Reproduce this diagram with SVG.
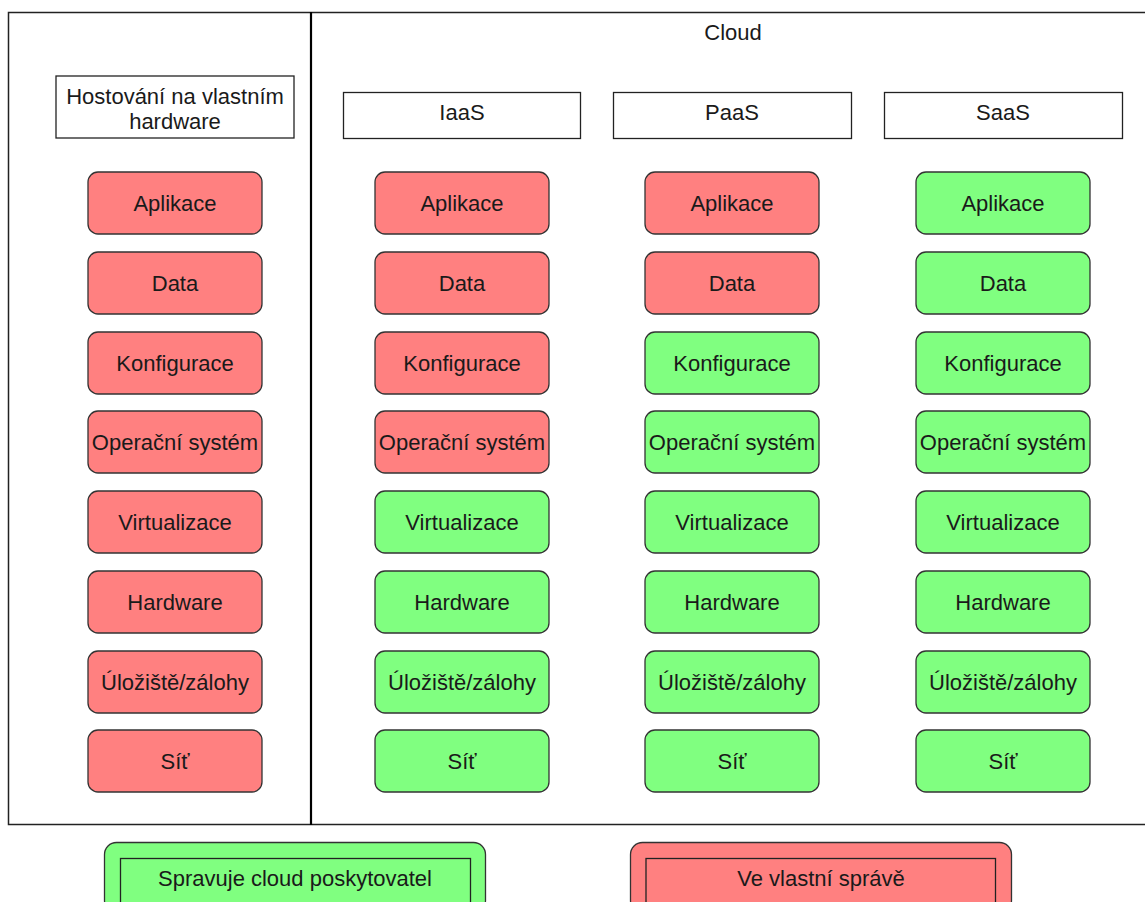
<svg xmlns="http://www.w3.org/2000/svg" width="1145" height="902" viewBox="0 0 1145 902">
<style>
text{font-family:"Liberation Sans",Arial,sans-serif;font-size:22px;fill:#1a1a1a;text-anchor:middle}
.r{fill:#FF8080;stroke:#333;stroke-width:1.3}
.g{fill:#80FF80;stroke:#333;stroke-width:1.3}
.h{fill:#fff;stroke:#222;stroke-width:1.3}
.frame{fill:#fff;stroke:#222;stroke-width:1.5}
</style>
<g id="frame">
<rect class="frame" x="8.5" y="12.5" width="1150" height="812"/>
<line x1="311" y1="12" x2="311" y2="825" stroke="#000" stroke-width="2.2"/>
<text x="733" y="40">Cloud</text>
</g>
<g id="connectors"></g>
<g id="hdr-own"><rect class="h" x="56" y="76" width="238" height="62"/><text x="175" y="104">Hostování na vlastním</text><text x="175" y="129">hardware</text></g>
<g id="hdr-iaas"><rect class="h" x="343.5" y="92.5" width="237" height="46"/><text x="462" y="120">IaaS</text></g>
<g id="hdr-paas"><rect class="h" x="613.5" y="92.5" width="238" height="46"/><text x="732" y="120">PaaS</text></g>
<g id="hdr-saas"><rect class="h" x="884.5" y="92.5" width="238" height="46"/><text x="1003" y="120">SaaS</text></g>

<g id="own-1"><rect class="r" x="88" y="172" width="174" height="62" rx="10"/><text x="175" y="211">Aplikace</text></g>
<g id="own-2"><rect class="r" x="88" y="252" width="174" height="62" rx="10"/><text x="175" y="291">Data</text></g>
<g id="own-3"><rect class="r" x="88" y="332" width="174" height="62" rx="10"/><text x="175" y="371">Konfigurace</text></g>
<g id="own-4"><rect class="r" x="88" y="411" width="174" height="62" rx="10"/><text x="175" y="450">Operační systém</text></g>
<g id="own-5"><rect class="r" x="88" y="491" width="174" height="62" rx="10"/><text x="175" y="530">Virtualizace</text></g>
<g id="own-6"><rect class="r" x="88" y="571" width="174" height="62" rx="10"/><text x="175" y="610">Hardware</text></g>
<g id="own-7"><rect class="r" x="88" y="651" width="174" height="62" rx="10"/><text x="175" y="690">Úložiště/zálohy</text></g>
<g id="own-8"><rect class="r" x="88" y="730" width="174" height="62" rx="10"/><text x="175" y="769">Síť</text></g>

<g id="iaas-1"><rect class="r" x="375" y="172" width="174" height="62" rx="10"/><text x="462" y="211">Aplikace</text></g>
<g id="iaas-2"><rect class="r" x="375" y="252" width="174" height="62" rx="10"/><text x="462" y="291">Data</text></g>
<g id="iaas-3"><rect class="r" x="375" y="332" width="174" height="62" rx="10"/><text x="462" y="371">Konfigurace</text></g>
<g id="iaas-4"><rect class="r" x="375" y="411" width="174" height="62" rx="10"/><text x="462" y="450">Operační systém</text></g>
<g id="iaas-5"><rect class="g" x="375" y="491" width="174" height="62" rx="10"/><text x="462" y="530">Virtualizace</text></g>
<g id="iaas-6"><rect class="g" x="375" y="571" width="174" height="62" rx="10"/><text x="462" y="610">Hardware</text></g>
<g id="iaas-7"><rect class="g" x="375" y="651" width="174" height="62" rx="10"/><text x="462" y="690">Úložiště/zálohy</text></g>
<g id="iaas-8"><rect class="g" x="375" y="730" width="174" height="62" rx="10"/><text x="462" y="769">Síť</text></g>

<g id="paas-1"><rect class="r" x="645" y="172" width="174" height="62" rx="10"/><text x="732" y="211">Aplikace</text></g>
<g id="paas-2"><rect class="r" x="645" y="252" width="174" height="62" rx="10"/><text x="732" y="291">Data</text></g>
<g id="paas-3"><rect class="g" x="645" y="332" width="174" height="62" rx="10"/><text x="732" y="371">Konfigurace</text></g>
<g id="paas-4"><rect class="g" x="645" y="411" width="174" height="62" rx="10"/><text x="732" y="450">Operační systém</text></g>
<g id="paas-5"><rect class="g" x="645" y="491" width="174" height="62" rx="10"/><text x="732" y="530">Virtualizace</text></g>
<g id="paas-6"><rect class="g" x="645" y="571" width="174" height="62" rx="10"/><text x="732" y="610">Hardware</text></g>
<g id="paas-7"><rect class="g" x="645" y="651" width="174" height="62" rx="10"/><text x="732" y="690">Úložiště/zálohy</text></g>
<g id="paas-8"><rect class="g" x="645" y="730" width="174" height="62" rx="10"/><text x="732" y="769">Síť</text></g>

<g id="saas-1"><rect class="g" x="916" y="172" width="174" height="62" rx="10"/><text x="1003" y="211">Aplikace</text></g>
<g id="saas-2"><rect class="g" x="916" y="252" width="174" height="62" rx="10"/><text x="1003" y="291">Data</text></g>
<g id="saas-3"><rect class="g" x="916" y="332" width="174" height="62" rx="10"/><text x="1003" y="371">Konfigurace</text></g>
<g id="saas-4"><rect class="g" x="916" y="411" width="174" height="62" rx="10"/><text x="1003" y="450">Operační systém</text></g>
<g id="saas-5"><rect class="g" x="916" y="491" width="174" height="62" rx="10"/><text x="1003" y="530">Virtualizace</text></g>
<g id="saas-6"><rect class="g" x="916" y="571" width="174" height="62" rx="10"/><text x="1003" y="610">Hardware</text></g>
<g id="saas-7"><rect class="g" x="916" y="651" width="174" height="62" rx="10"/><text x="1003" y="690">Úložiště/zálohy</text></g>
<g id="saas-8"><rect class="g" x="916" y="730" width="174" height="62" rx="10"/><text x="1003" y="769">Síť</text></g>

<g id="legend-cloud"><rect class="g" x="104.5" y="842.5" width="381" height="70" rx="12"/><rect x="120.5" y="858.5" width="350" height="60" fill="none" stroke="#222" stroke-width="1.3"/><text x="295" y="886">Spravuje cloud poskytovatel</text></g>
<g id="legend-own"><rect class="r" x="630.5" y="842.5" width="381" height="70" rx="12"/><rect x="646" y="858.5" width="349.5" height="60" fill="none" stroke="#222" stroke-width="1.3"/><text x="821" y="886">Ve vlastní správě</text></g>
</svg>
